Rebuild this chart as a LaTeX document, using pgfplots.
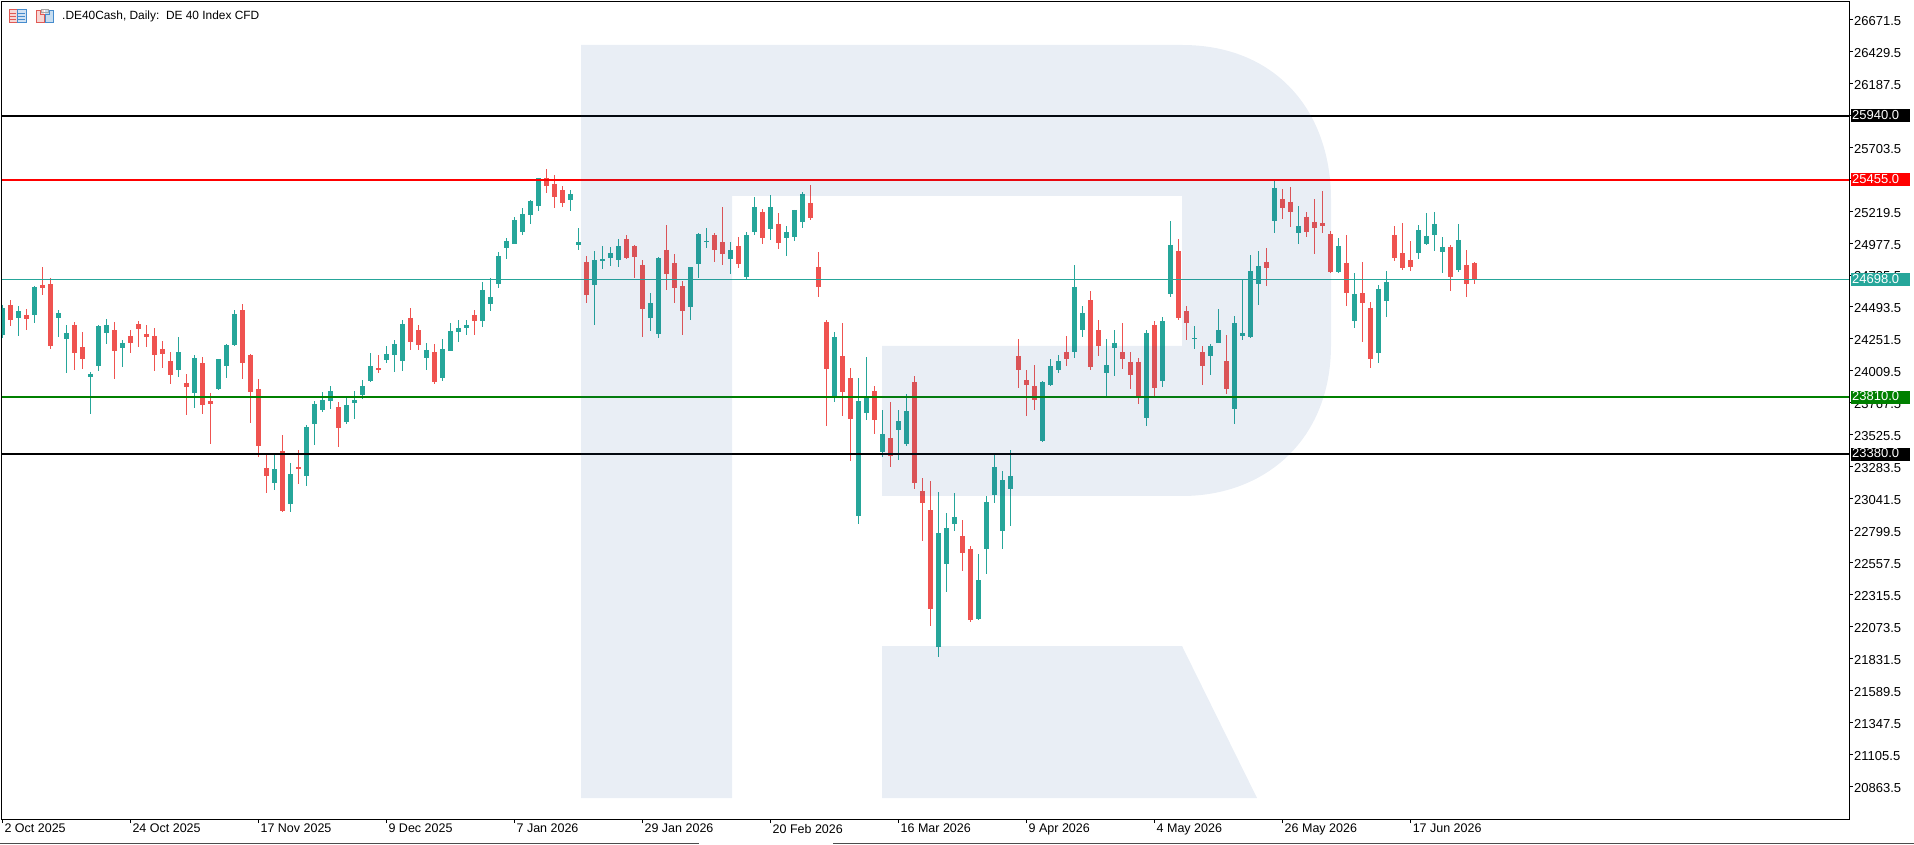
\documentclass[border=0pt]{standalone}
\usepackage{pgfplots}
\usepackage{pgfplotstable}
\usepackage{fontspec}
\setmainfont{Liberation Sans}
\pgfplotsset{compat=1.18}
\definecolor{cUp}{RGB}{38,166,154}
\definecolor{cDn}{RGB}{239,83,80}
\definecolor{cGrn}{RGB}{0,128,0}
\definecolor{cWm}{RGB}{35,85,155}
\definecolor{cIr}{RGB}{224,90,85}
\definecolor{cIb}{RGB}{70,140,205}
\newcommand{\lab}{\fontsize{12.5}{15}\selectfont}
\newcommand{\labb}{\fontsize{13}{15}\selectfont}
\newcommand{\labt}{\fontsize{11.9}{15}\selectfont}
% x open high low close
\pgfplotstableread{
x o h l c
0 24281 24508 24256 24486
2 24410 24501 24274 24463
4 24433 24652 24372 24645
7 24410 24470 24266 24448
8 24251 24357 23993 24296
11 23963 24001 23683 23986
12 24046 24357 24008 24349
13 24296 24402 24213 24357
15 24183 24243 24039 24221
22 24016 24266 23963 24152
24 23842 24130 23728 24107
27 23872 24099 23864 24099
28 24046 24213 23955 24205
29 24205 24470 24198 24440
34 23160 23390 23107 23266
36 23001 23311 22940 23228
38 23213 23599 23137 23584
39 23607 23781 23448 23758
40 23713 23849 23698 23788
41 23781 23895 23720 23857
43 23622 23811 23607 23751
44 23766 23857 23645 23788
45 23826 23940 23796 23895
46 23932 24145 23925 24046
48 24091 24198 24069 24137
49 24129 24243 24001 24213
50 24084 24394 24008 24364
53 24107 24220 24016 24167
55 23955 24251 23932 24175
56 24160 24372 24160 24311
57 24304 24394 24228 24334
58 24334 24394 24281 24357
60 24387 24683 24342 24622
61 24516 24713 24463 24569
62 24667 24910 24637 24880
63 24940 25016 24857 24993
64 24970 25175 24970 25152
65 25061 25243 25039 25198
66 25190 25304 25122 25296
67 25258 25470 25220 25470
71 25304 25379 25220 25349
72 24963 25092 24925 24986
74 24660 24917 24357 24849
75 24841 24955 24781 24857
76 24864 24947 24804 24902
77 24849 25008 24796 24955
81 24410 24599 24311 24523
82 24288 24872 24258 24864
86 24493 24796 24394 24796
87 24819 25054 24713 25046
88 24985 25091 24940 24993
91 24857 24985 24743 24925
93 24720 25061 24697 25038
94 25061 25326 25038 25250
96 25084 25341 25000 25250
98 25016 25107 24879 25061
99 25023 25228 24993 25228
100 25137 25364 25091 25349
104 23811 24304 23773 24266
107 22910 23955 22849 23781
108 23690 24114 23637 23811
110 23395 23713 23357 23531
112 23561 23713 23334 23629
113 23455 23834 23440 23705
117 21917 23092 21842 22781
118 22546 22933 22334 22819
119 22849 23084 22796 22902
122 22130 22622 22122 22425
123 22660 23061 22470 23016
124 23069 23379 23008 23281
125 22796 23251 22660 23182
126 23114 23410 22834 23213
130 23478 23932 23470 23925
131 23902 24099 23895 24046
132 24016 24129 23993 24084
134 24152 24811 24107 24645
135 24319 24501 24266 24448
138 23993 24251 23819 24054
139 24183 24319 23971 24221
143 23652 24319 23592 24296
145 23933 24417 23887 24387
146 24592 25145 24569 24963
149 24251 24349 24175 24258
151 24122 24213 23978 24198
152 24221 24478 24221 24319
154 23721 24425 23607 24372
155 24274 24698 24243 24296
156 24266 24887 24258 24766
157 24667 24917 24508 24804
159 25145 25455 25054 25395
162 25054 25258 24970 25107
167 24758 25016 24751 24955
169 24387 24751 24334 24592
172 24145 24660 24069 24630
173 24539 24766 24417 24683
177 24902 25114 24857 25076
178 24970 25205 24963 25031
179 25039 25213 24917 25122
180 24910 25023 24751 24948
182 24773 25122 24758 25001
}\upT
\pgfplotstableread{
x o h l c
1 24508 24546 24349 24395
3 24433 24478 24319 24402
5 24660 24796 24584 24637
6 24667 24713 24175 24198
9 24357 24380 24016 24145
10 24190 24304 24024 24099
14 24319 24380 23948 24160
16 24274 24319 24145 24221
17 24364 24387 24190 24327
18 24289 24357 24190 24266
19 24274 24334 24008 24130
20 24175 24236 24031 24137
21 24084 24152 23910 23978
23 23918 23986 23675 23887
25 24069 24114 23683 23751
26 23781 23842 23453 23758
30 24470 24516 23948 24069
31 24130 24140 23614 23849
32 23872 23948 23357 23440
33 23273 23390 23084 23213
35 23402 23523 22940 22948
37 23281 23410 23152 23266
42 23735 23773 23432 23576
47 24031 24129 23993 24016
51 24410 24485 24167 24228
52 24319 24357 24167 24205
54 24152 24213 23910 23925
59 24432 24470 24281 24387
68 25470 25539 25357 25410
69 25425 25493 25243 25326
70 25379 25410 25251 25281
73 24834 24879 24523 24584
78 25008 25038 24857 24864
79 24955 24963 24713 24872
80 24811 24849 24266 24478
83 24925 25114 24622 24743
84 24826 24894 24523 24637
85 24652 24690 24281 24463
89 25038 25054 24834 24925
90 24985 25250 24811 24894
92 24955 25023 24788 24819
95 25213 25235 24970 25016
97 25122 25205 24932 24978
101 25281 25417 25152 25167
102 24796 24910 24569 24644
103 24379 24394 23592 24023
105 24122 24372 23667 23849
106 23955 24031 23326 23645
109 23857 23895 23531 23637
111 23501 23773 23281 23364
114 23925 23970 23114 23160
115 23099 23198 22720 23008
116 22955 23175 22077 22205
120 22758 22879 22493 22630
121 22660 22683 22107 22122
127 24122 24251 23879 24016
128 23940 24016 23667 23902
129 23895 24054 23713 23788
133 24152 24273 24046 24099
136 24546 24615 24016 24039
137 24319 24395 24122 24198
140 24152 24372 24024 24099
141 24077 24152 23872 23978
142 24077 24107 23758 23819
144 24357 24387 23819 23880
147 24917 25008 24395 24410
148 24463 24501 24243 24372
150 24152 24198 23902 24046
153 24084 24281 23834 23872
158 24834 24940 24652 24789
160 25311 25387 25160 25243
161 25289 25402 25099 25213
163 25175 25213 25023 25061
164 25137 25311 24895 25092
165 25130 25372 25054 25107
166 25046 25069 24751 24758
168 24827 25039 24501 24599
170 24599 24834 24228 24524
171 24486 24531 24031 24099
174 25039 25107 24842 24864
175 24902 25130 24773 24789
176 24849 24993 24766 24796
181 24948 24963 24614 24720
183 24811 24925 24569 24667
184 24827 24834 24667 24698
}\dnT
\begin{document}
\begin{tikzpicture}[x=1pt,y=1pt]
\useasboundingbox (0,0) rectangle (1914,844);
\begin{axis}[
  at={(2pt,25pt)}, anchor=south west,
  scale only axis, width=1847pt, height=817pt,
  xmin=-0.04, xmax=230.8, ymin=20616, ymax=26803,
  axis line style={black,line width=1pt},
  tick align=outside, major tick length=4pt,
  tick style={black,line width=1pt},
  xtick pos=bottom, ytick pos=right,
  yticklabel pos=right,
  xtick={0,16,32,48,64,80,96,112,128,144,160,176},
  xticklabels={2 Oct 2025,24 Oct 2025,17 Nov 2025,9 Dec 2025,7 Jan 2026,29 Jan 2026,20 Feb 2026,16 Mar 2026,9 Apr 2026,4 May 2026,26 May 2026,17 Jun 2026},
  xticklabel style={anchor=north west,inner sep=0pt,xshift=2pt,yshift=-1pt,font=\lab},
  ytick={20863.5,21105.5,21347.5,21589.5,21831.5,22073.5,22315.5,22557.5,22799.5,23041.5,23283.5,23525.5,23767.5,24009.5,24251.5,24493.5,24735.5,24977.5,25219.5,25461.5,25703.5,25945.5,26187.5,26429.5,26671.5},
  yticklabel style={anchor=west,inner sep=0pt,xshift=1pt,yshift=-1.5pt,font=\labb,
    /pgf/number format/.cd,fixed,fixed zerofill,precision=1,1000 sep={},assume math mode=true},
  scaled y ticks=false,
]
% wicks
\addplot[draw=none,mark=none,forget plot,error bars/.cd,y dir=both,y explicit,error mark=none,error bar style={line width=1pt,draw=cUp}]
  table[x=x,y=c,y error plus expr=\thisrow{h}-\thisrow{c},y error minus expr=\thisrow{c}-\thisrow{l}] {\upT};
\addplot[draw=none,mark=none,forget plot,error bars/.cd,y dir=both,y explicit,error mark=none,error bar style={line width=1pt,draw=cDn}]
  table[x=x,y=o,y error plus expr=\thisrow{h}-\thisrow{o},y error minus expr=\thisrow{o}-\thisrow{l}] {\dnT};
% bodies
\addplot[draw=none,mark=none,forget plot,error bars/.cd,y dir=minus,y explicit,error mark=none,error bar style={line width=5pt,draw=cUp}]
  table[x=x,y=c,y error minus expr=\thisrow{c}-\thisrow{o}] {\upT};
\addplot[draw=none,mark=none,forget plot,error bars/.cd,y dir=minus,y explicit,error mark=none,error bar style={line width=5pt,draw=cDn}]
  table[x=x,y=o,y error minus expr=\thisrow{o}-\thisrow{c}] {\dnT};
% levels
\addplot[cUp,line width=1pt,mark=none] coordinates {(-0.04,24698) (230.8,24698)};
\addplot[black,line width=2pt,mark=none] coordinates {(-0.04,25940) (230.8,25940)};
\addplot[red,line width=2pt,mark=none] coordinates {(-0.04,25455) (230.8,25455)};
\addplot[cGrn,line width=2pt,mark=none] coordinates {(-0.04,23810) (230.8,23810)};
\addplot[black,line width=2pt,mark=none] coordinates {(-0.04,23380) (230.8,23380)};
\coordinate (a) at (axis cs:230.8,25940);
\coordinate (b) at (axis cs:230.8,25455);
\coordinate (c) at (axis cs:230.8,24698);
\coordinate (d) at (axis cs:230.8,23810);
\coordinate (e) at (axis cs:230.8,23380);
\end{axis}
% watermark, in image pixels (y measured from the top)
\begin{scope}[yscale=-1,yshift=-844pt]
\fill[cWm,fill opacity=0.1]
  (581,45) -- (1182,45) .. controls (1275,45) and (1331,110) .. (1331,200)
  -- (1331,345) .. controls (1331,440) and (1265,496) .. (1182,496)
  -- (882,496) -- (882,346) -- (1182,346) -- (1182,196) -- (732,196)
  -- (732,798) -- (581,798) -- cycle;
\fill[cWm,fill opacity=0.1] (882,646) -- (1182,646) -- (1257,798) -- (882,798) -- cycle;
% toolbar icons
\fill[cIr!25] (9,9) rectangle (17,22);
\fill[cIb!25] (17,9) rectangle (26,22);
\draw[cIr,line width=0.8pt] (9,9) rectangle (17,22);
\draw[cIb,line width=0.8pt] (17,9) rectangle (26,22);
\draw[cIr,line width=0.8pt] (10,13) -- (16,13) (10,16) -- (16,16) (10,19) -- (16,19);
\draw[cIb,line width=0.8pt] (18,13) -- (25,13) (18,16) -- (25,16) (18,19) -- (25,19);
\fill[cIr!25] (36,10) rectangle (44,22);
\fill[cIb!30] (45,10) rectangle (53,22);
\draw[cIr,line width=0.8pt] (36,10) -- (40,10) -- (40,14) -- (44,14) -- (44,22) -- (36,22) -- cycle;
\draw[cIb,line width=0.8pt] (53,10) -- (49,10) -- (49,14) -- (45,14) -- (45,22) -- (53,22) -- cycle;
\draw[gray!70,line width=0.8pt] (41,9) rectangle (48,12);
\node[anchor=west,inner sep=0pt,font=\labt] at (62,16.5) {.DE40Cash, Daily:\ \ DE 40 Index CFD};
\draw[black!70,line width=1pt] (0,843.5) -- (699,843.5) (833,843.5) -- (1914,843.5);
\end{scope}
% price tags on the right edge
\foreach \p/\col/\t in {a/black/25940.0,b/red/25455.0,c/cUp/24698.0,d/cGrn/23810.0,e/black/23380.0}{
  \node[anchor=west,fill=\col,text=white,inner xsep=1pt,inner ysep=0pt,text height=10pt,text depth=3pt,align=left,text width=57pt,font=\labb] at ([xshift=2pt]\p) {\t};
}
\end{tikzpicture}
\end{document}
